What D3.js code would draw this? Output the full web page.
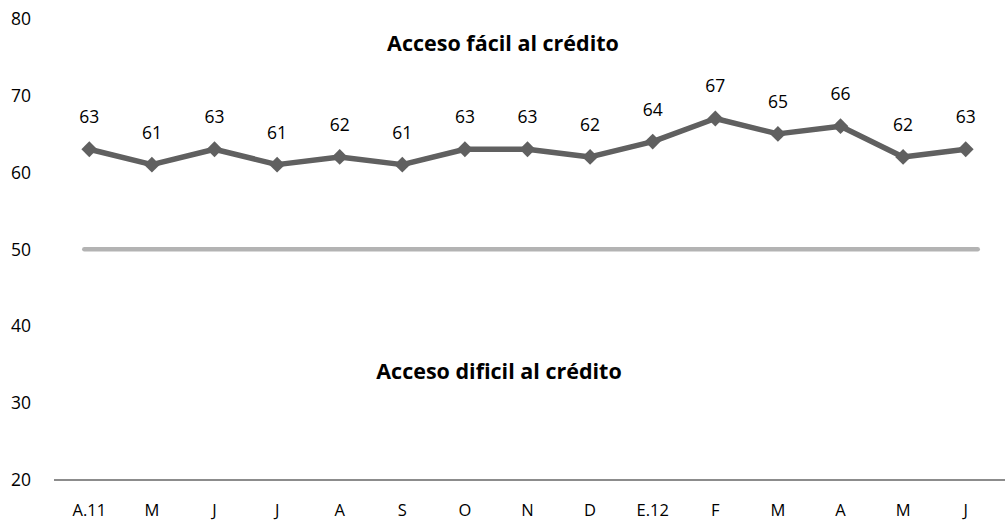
<!DOCTYPE html>
<html>
<head>
<meta charset="utf-8">
<script src="https://cdn.jsdelivr.net/npm/d3@7"></script>
<style>
body{margin:0;background:#fff;}
text{font-family:"Open Sans",sans-serif;fill:#000;}
</style>
</head>
<body>
<div id="plot"></div>
<script>
var months = ["A.11","M","J","J","A","S","O","N","D","E.12","F","M","A","M","J"];
var values = [63,61,63,61,62,61,63,63,62,64,67,65,66,62,63];
var yTicks = [20,30,40,50,60,70,80];
var threshold = 50;

var W = 1005, H = 523;
var svg = d3.select('#plot').append('svg').attr('width',W).attr('height',H);

var x = d3.scaleBand().domain(d3.range(months.length)).range([58,997]);
var y = d3.scaleLinear().domain([20,80]).range([480,18.5]);

// y tick labels
svg.selectAll('.ytick').data(yTicks).enter().append('text')
    .attr('x',11).attr('y',function(d){return y(d);})
    .attr('dy','0.36em').style('font-size','17.5px').text(function(d){return d;});

// x axis line
svg.append('line').attr('x1',54).attr('x2',1005)
    .attr('y1',y(20)).attr('y2',y(20))
    .style('stroke','#8c8c8c').style('stroke-width',2);

// x labels
svg.selectAll('.xtick').data(months).enter().append('text')
    .attr('x',function(d,i){return x(i)+x.bandwidth()/2;})
    .attr('y',516).attr('text-anchor','middle')
    .style('font-size','16.5px').text(function(d){return d;});

// threshold line
svg.append('line')
    .attr('x1',x(0)+x.bandwidth()/2-5).attr('x2',x(months.length-1)+x.bandwidth()/2+12)
    .attr('y1',y(threshold)).attr('y2',y(threshold))
    .style('stroke','#b3b3b3').style('stroke-width',4.5).style('stroke-linecap','round');

var line = d3.line()
    .x(function(d,i){return x(i)+x.bandwidth()/2;})
    .y(function(d){return y(d);});

svg.append('path').datum(values).attr('d',line)
    .style('fill','none').style('stroke','#606060').style('stroke-width',5.5)
    .style('stroke-linejoin','round');

var sym = d3.symbol().type(d3.symbolDiamond2).size(160);
svg.selectAll('.pt').data(values).enter().append('path')
    .attr('d',sym)
    .attr('transform',function(d,i){return 'translate('+(x(i)+x.bandwidth()/2)+','+y(d)+')';})
    .style('fill','#606060');

svg.selectAll('.lbl').data(values).enter().append('text')
    .attr('x',function(d,i){return x(i)+x.bandwidth()/2;})
    .attr('y',function(d){return y(d)-26;})
    .attr('text-anchor','middle').style('font-size','17.5px')
    .text(function(d){return d;});

svg.append('text').attr('x',503).attr('y',51).attr('text-anchor','middle')
    .style('font-size','21.5px').style('font-weight','bold').style('letter-spacing','0px')
    .text('Acceso fácil al crédito');
svg.append('text').attr('x',499).attr('y',379).attr('text-anchor','middle')
    .style('font-size','21.5px').style('font-weight','bold').style('letter-spacing','0px')
    .text('Acceso dificil al crédito');
</script>
</body>
</html>
